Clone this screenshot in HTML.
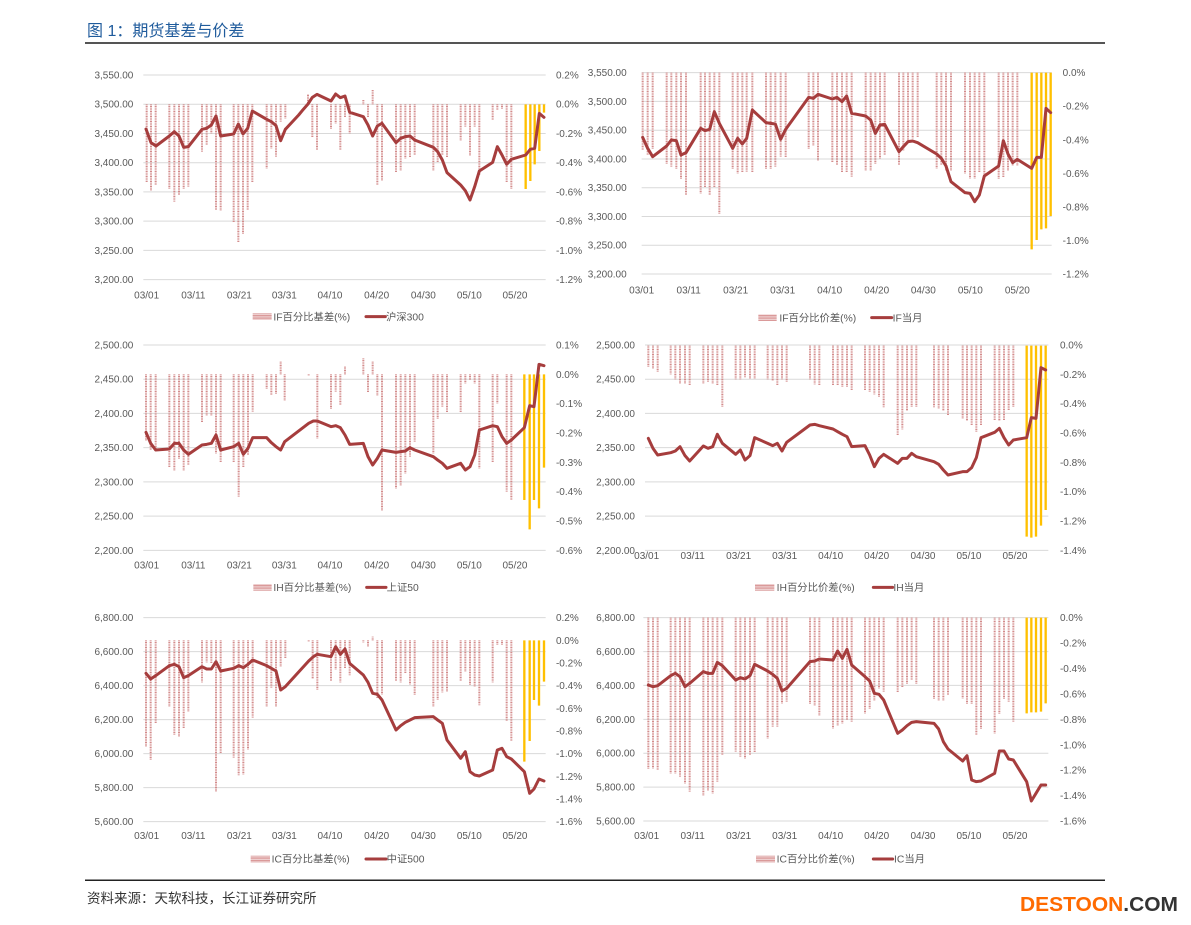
<!DOCTYPE html>
<html><head><meta charset="utf-8"><style>
html,body{margin:0;padding:0;background:#fff;}
svg{display:block;}
.g{stroke:#d9d9d9;stroke-width:3;fill:none}
.t{font-family:"Liberation Sans",sans-serif;font-size:30px;fill:#595959}
.e{text-anchor:end}
.m{text-anchor:middle}
.bar{stroke:#d38c8c;stroke-width:6;stroke-dasharray:3 2;fill:none}
.yb{stroke:#ffc000;stroke-width:7;fill:none}
.ln{fill:none;stroke:#a63d3d;stroke-width:9;stroke-linejoin:round;stroke-linecap:round}
.lg{font-family:"Liberation Sans","Noto Sans CJK SC",sans-serif;font-size:31px;fill:#595959}
</style></head><body>
<svg width="1191" height="925" viewBox="0 0 1191 925" xmlns="http://www.w3.org/2000/svg">
<defs><pattern id="hp" width="6" height="5" patternUnits="userSpaceOnUse"><rect width="6" height="5" fill="#f3dada"/><rect width="6" height="2.5" fill="#d58f8f"/></pattern></defs>

<text x="87" y="36" font-family="Liberation Sans,Noto Sans CJK SC,sans-serif" font-size="16" fill="#1f5b9c">图 1：期货基差与价差</text>
<rect x="85" y="42" width="1020" height="2" fill="#555"/>

<!-- Chart 1 -->
<g transform="translate(80,60) scale(0.3333333)">
<path class="g" d="M190 45H1397M190 132.7H1397M190 220.4H1397M190 308.1H1397M190 395.8H1397M190 483.5H1397M190 571.2H1397M190 658.9H1397"/>
<g class="t e"><text x="160" y="55.5">3,550.00</text><text x="160" y="143.2">3,500.00</text><text x="160" y="230.9">3,450.00</text><text x="160" y="318.6">3,400.00</text><text x="160" y="406.3">3,350.00</text><text x="160" y="494">3,300.00</text><text x="160" y="581.7">3,250.00</text><text x="160" y="669.4">3,200.00</text></g>
<g class="t"><text x="1428" y="55.5">0.2%</text><text x="1428" y="143.2">0.0%</text><text x="1428" y="230.9">-0.2%</text><text x="1428" y="318.6">-0.4%</text><text x="1428" y="406.3">-0.6%</text><text x="1428" y="494">-0.8%</text><text x="1428" y="581.7">-1.0%</text><text x="1428" y="669.4">-1.2%</text></g>
<g class="t m"><text x="200" y="715">03/01</text><text x="340" y="715">03/11</text><text x="478" y="715">03/21</text><text x="613" y="715">03/31</text><text x="750" y="715">04/10</text><text x="890" y="715">04/20</text><text x="1030" y="715">04/30</text><text x="1168" y="715">05/10</text><text x="1305" y="715">05/20</text></g>
<path class="bar" d="M200 133V367M213 133V393M227 133V375M268 133V387M283 133V425M297 133V405M311 133V388M325 133V380M366 133V275M380 133V255M394 133V220M408 133V450M422 133V452M461 133V488M475 133V548M489 133V523M503 133V450M517 133V367M560 133V325M574 133V265M588 133V290M602 133V185M616 133V175M684 133V102M697 133V232M711 133V270M753 133V207M767 133V190M781 133V270M795 133V173M809 133V220M850 133V120M864 133V173M878 133V90M892 133V375M906 133V362M948 133V338M962 133V333M976 133V295M990 133V292M1004 133V285M1060 133V333M1073 133V308M1087 133V285M1101 133V292M1142 133V242M1156 133V200M1170 133V287M1184 133V200M1198 133V345M1238 133V180M1252 133V150M1266 133V148M1280 133V367M1294 133V387"/>
<path class="yb" d="M1337 133V387M1351 133V363M1364 133V313M1378 133V273M1392 133V158"/>
<polyline class="ln" points="198,207 213,248 228,258 268,228 283,215 297,228 311,262 325,260 366,208 380,205 394,195 408,168 422,228 461,222 475,192 489,222 503,205 517,153 560,178 574,185 588,197 602,242 616,208 656,165 670,148 684,132 697,112 711,103 753,123 767,102 781,113 795,108 809,157 850,170 864,195 878,228 892,198 906,190 948,248 962,235 976,230 990,228 1004,240 1060,262 1073,275 1087,300 1101,338 1142,375 1156,392 1170,420 1184,380 1198,333 1238,307 1252,260 1266,285 1280,313 1294,298 1337,285 1351,268 1364,265 1378,160 1392,172"/>
<rect x="518" y="760" width="57" height="20" fill="url(#hp)"/>
<text class="lg" x="580" y="781">IF百分比基差(%)</text>
<path class="ln" stroke-linecap="butt" d="M858 770H916"/>
<text class="lg" x="918" y="781">沪深300</text>
</g>

<!-- Chart 2 -->
<g transform="translate(580,60) scale(0.3333333)">
<path class="g" d="M185 38H1415M185 124.3H1415M185 210.6H1415M185 296.9H1415M185 383.1H1415M185 469.4H1415M185 555.7H1415M185 642H1415"/>
<g class="t e"><text x="140" y="48.5">3,550.00</text><text x="140" y="134.8">3,500.00</text><text x="140" y="221.1">3,450.00</text><text x="140" y="307.4">3,400.00</text><text x="140" y="393.6">3,350.00</text><text x="140" y="479.9">3,300.00</text><text x="140" y="566.2">3,250.00</text><text x="140" y="652.5">3,200.00</text></g>
<g class="t"><text x="1448" y="48.5">0.0%</text><text x="1448" y="149.2">-0.2%</text><text x="1448" y="249.8">-0.4%</text><text x="1448" y="350.5">-0.6%</text><text x="1448" y="451.2">-0.8%</text><text x="1448" y="551.8">-1.0%</text><text x="1448" y="652.5">-1.2%</text></g>
<g class="t m"><text x="185" y="700">03/01</text><text x="326" y="700">03/11</text><text x="467" y="700">03/21</text><text x="608" y="700">03/31</text><text x="749" y="700">04/10</text><text x="890" y="700">04/20</text><text x="1030" y="700">04/30</text><text x="1171" y="700">05/10</text><text x="1312" y="700">05/20</text></g>
<path class="bar" d="M188 38V270M203 38V285M218 38V268M260 38V312M274 38V320M289 38V328M303 38V358M318 38V405M362 38V400M375 38V382M389 38V405M403 38V382M418 38V463M458 38V328M473 38V340M487 38V338M500 38V335M517 38V338M558 38V328M572 38V328M586 38V320M602 38V290M617 38V292M686 38V268M700 38V258M714 38V302M757 38V308M771 38V315M786 38V338M800 38V338M815 38V350M857 38V332M872 38V332M886 38V312M900 38V295M914 38V285M957 38V315M970 38V272M984 38V240M998 38V235M1013 38V232M1070 38V325M1084 38V315M1098 38V332M1113 38V332M1155 38V340M1170 38V355M1184 38V355M1198 38V338M1213 38V345M1256 38V358M1270 38V352M1284 38V332M1298 38V316M1312 38V316"/>
<path class="yb" stroke-width="9" d="M1355 38V568M1370 38V540M1384 38V508M1398 38V505M1412 38V468"/>
<polyline class="ln" points="188,232 203,265 218,290 260,258 274,240 289,242 303,285 318,278 362,205 375,212 389,208 403,155 418,190 458,265 473,235 487,252 500,235 517,150 558,188 572,190 586,192 602,238 617,208 686,112 700,115 714,103 757,117 771,112 786,125 800,108 815,160 857,168 872,180 886,220 900,195 914,193 957,275 970,260 984,245 998,243 1013,248 1070,282 1084,295 1098,318 1113,365 1155,398 1170,400 1184,425 1198,405 1213,348 1256,318 1270,242 1284,282 1298,308 1312,298 1355,325 1370,292 1384,292 1398,145 1412,158"/>
<rect x="535" y="763" width="55" height="20" fill="url(#hp)"/>
<text class="lg" x="598" y="784">IF百分比价差(%)</text>
<path class="ln" stroke-linecap="butt" d="M875 773H935"/>
<text class="lg" x="938" y="784">IF当月</text>
</g>

<!-- Chart 3 -->
<g transform="translate(80,335) scale(0.3333333)">
<path class="g" d="M190 30H1397M190 132.7H1397M190 235.3H1397M190 338H1397M190 440.7H1397M190 543.3H1397M190 646H1397"/>
<g class="t e"><text x="160" y="40.5">2,500.00</text><text x="160" y="143.2">2,450.00</text><text x="160" y="245.8">2,400.00</text><text x="160" y="348.5">2,350.00</text><text x="160" y="451.2">2,300.00</text><text x="160" y="553.8">2,250.00</text><text x="160" y="656.5">2,200.00</text></g>
<g class="t"><text x="1428" y="40.5">0.1%</text><text x="1428" y="128.5">0.0%</text><text x="1428" y="216.5">-0.1%</text><text x="1428" y="304.5">-0.2%</text><text x="1428" y="392.5">-0.3%</text><text x="1428" y="480.5">-0.4%</text><text x="1428" y="568.5">-0.5%</text><text x="1428" y="656.5">-0.6%</text></g>
<g class="t m"><text x="200" y="700">03/01</text><text x="340" y="700">03/11</text><text x="478" y="700">03/21</text><text x="613" y="700">03/31</text><text x="750" y="700">04/10</text><text x="890" y="700">04/20</text><text x="1030" y="700">04/30</text><text x="1168" y="700">05/10</text><text x="1305" y="700">05/20</text></g>
<path class="bar" d="M198 118V318M212 118V345M227 118V345M268 118V398M283 118V408M297 118V372M311 118V408M325 118V390M366 118V262M380 118V242M394 118V243M408 118V355M422 118V382M461 118V382M476 118V485M490 118V398M504 118V360M518 118V230M560 118V162M574 118V180M588 118V178M602 118V78M614 118V198M686 118V122M712 118V310M753 118V222M767 118V170M781 118V210M795 118V95M850 118V68M864 118V172M878 118V78M892 118V182M906 118V528M948 118V460M962 118V452M976 118V415M990 118V365M1004 118V320M1060 118V355M1073 118V252M1087 118V215M1101 118V232M1142 118V232M1156 118V145M1170 118V135M1184 118V145M1198 118V400M1238 118V383M1252 118V205M1280 118V470M1294 118V495"/>
<path class="yb" d="M1333 118V495M1349 118V583M1362 118V495M1377 118V520M1392 118V398"/>
<polyline class="ln" points="198,292 212,325 227,345 268,342 283,325 297,325 311,345 325,358 366,330 380,328 394,325 408,300 422,345 461,335 476,325 490,358 504,340 518,308 560,308 574,323 588,335 602,345 614,320 686,265 700,258 712,258 753,275 767,272 781,278 795,300 809,328 850,325 864,365 878,390 892,370 906,345 948,352 962,350 976,348 990,338 1004,345 1060,365 1073,375 1087,385 1101,400 1142,385 1156,405 1170,395 1184,360 1198,285 1238,272 1252,275 1266,305 1280,325 1294,315 1333,278 1349,212 1362,215 1377,88 1392,92"/>
<rect x="520" y="747" width="55" height="20" fill="url(#hp)"/>
<text class="lg" x="580" y="768">IH百分比基差(%)</text>
<path class="ln" stroke-linecap="butt" d="M860 757H918"/>
<text class="lg" x="920" y="768">上证50</text>
</g>

<!-- Chart 4 -->
<g transform="translate(580,335) scale(0.3333333)">
<path class="g" d="M195 30H1405M195 132.7H1405M195 235.3H1405M195 338H1405M195 440.7H1405M195 543.3H1405M195 646H1405"/>
<g class="t e"><text x="165" y="40.5">2,500.00</text><text x="165" y="143.2">2,450.00</text><text x="165" y="245.8">2,400.00</text><text x="165" y="348.5">2,350.00</text><text x="165" y="451.2">2,300.00</text><text x="165" y="553.8">2,250.00</text><text x="165" y="656.5">2,200.00</text></g>
<g class="t"><text x="1440" y="40.5">0.0%</text><text x="1440" y="128.5">-0.2%</text><text x="1440" y="216.5">-0.4%</text><text x="1440" y="304.5">-0.6%</text><text x="1440" y="392.5">-0.8%</text><text x="1440" y="480.5">-1.0%</text><text x="1440" y="568.5">-1.2%</text><text x="1440" y="656.5">-1.4%</text></g>
<g class="t m"><text x="200" y="672">03/01</text><text x="338" y="672">03/11</text><text x="476" y="672">03/21</text><text x="614" y="672">03/31</text><text x="752" y="672">04/10</text><text x="890" y="672">04/20</text><text x="1029" y="672">04/30</text><text x="1167" y="672">05/10</text><text x="1305" y="672">05/20</text></g>
<path class="bar" d="M205 32V97M219 32V100M233 32V110M272 32V118M286 32V133M300 32V147M315 32V147M329 32V152M370 32V147M384 32V140M398 32V147M412 32V150M427 32V215M467 32V133M481 32V133M495 32V128M510 32V130M524 32V130M563 32V133M578 32V138M592 32V152M606 32V133M620 32V140M690 32V133M704 32V148M718 32V152M759 32V152M773 32V150M787 32V155M801 32V155M815 32V165M855 32V165M869 32V170M883 32V178M897 32V185M911 32V218M953 32V302M967 32V283M981 32V228M995 32V215M1009 32V215M1062 32V218M1076 32V220M1090 32V228M1104 32V240M1148 32V252M1161 32V258M1175 32V272M1189 32V290M1203 32V270M1244 32V255M1258 32V258M1272 32V255M1286 32V225M1300 32V215"/>
<path class="yb" d="M1340 32V605M1354 32V608M1368 32V605M1383 32V572M1397 32V525"/>
<polyline class="ln" points="205,310 219,340 233,360 272,353 286,348 300,335 315,362 329,378 370,333 384,340 398,335 412,298 427,325 467,358 481,345 495,375 510,362 524,308 563,325 578,332 592,325 606,348 620,322 690,270 704,268 718,272 759,282 773,290 787,298 801,305 815,335 855,332 869,360 883,395 897,370 911,358 953,385 967,370 981,370 995,355 1009,365 1062,380 1076,388 1090,405 1104,420 1148,410 1161,410 1175,398 1189,368 1203,308 1244,292 1258,280 1272,308 1286,330 1300,315 1340,308 1354,248 1368,250 1383,98 1397,105"/>
<rect x="525" y="747" width="58" height="20" fill="url(#hp)"/>
<text class="lg" x="590" y="768">IH百分比价差(%)</text>
<path class="ln" stroke-linecap="butt" d="M880 757H938"/>
<text class="lg" x="940" y="768">IH当月</text>
</g>

<!-- Chart 5 -->
<g transform="translate(80,605) scale(0.3333333)">
<path class="g" d="M190 38H1397M190 140H1397M190 242H1397M190 344H1397M190 446H1397M190 548H1397M190 650H1397"/>
<g class="t e"><text x="160" y="48.5">6,800.00</text><text x="160" y="150.5">6,600.00</text><text x="160" y="252.5">6,400.00</text><text x="160" y="354.5">6,200.00</text><text x="160" y="456.5">6,000.00</text><text x="160" y="558.5">5,800.00</text><text x="160" y="660.5">5,600.00</text></g>
<g class="t"><text x="1428" y="48.5">0.2%</text><text x="1428" y="116.5">0.0%</text><text x="1428" y="184.5">-0.2%</text><text x="1428" y="252.5">-0.4%</text><text x="1428" y="320.5">-0.6%</text><text x="1428" y="388.5">-0.8%</text><text x="1428" y="456.5">-1.0%</text><text x="1428" y="524.5">-1.2%</text><text x="1428" y="592.5">-1.4%</text><text x="1428" y="660.5">-1.6%</text></g>
<g class="t m"><text x="200" y="702">03/01</text><text x="340" y="702">03/11</text><text x="478" y="702">03/21</text><text x="613" y="702">03/31</text><text x="750" y="702">04/10</text><text x="890" y="702">04/20</text><text x="1030" y="702">04/30</text><text x="1168" y="702">05/10</text><text x="1305" y="702">05/20</text></g>
<path class="bar" d="M198 106V425M212 106V465M227 106V355M268 106V305M283 106V390M297 106V395M311 106V370M325 106V320M366 106V232M380 106V172M394 106V175M408 106V560M422 106V445M461 106V458M476 106V512M490 106V508M504 106V433M518 106V338M560 106V305M574 106V248M588 106V305M602 106V185M616 106V160M686 106V110M698 106V222M712 106V255M753 106V228M767 106V193M781 106V232M795 106V190M809 106V212M850 106V112M864 106V125M878 106V95M892 106V280M906 106V268M948 106V228M962 106V232M976 106V205M990 106V238M1004 106V270M1060 106V305M1073 106V285M1087 106V262M1101 106V260M1142 106V228M1156 106V200M1170 106V240M1184 106V245M1198 106V302M1238 106V232M1252 106V120M1266 106V120M1280 106V348M1294 106V408"/>
<path class="yb" d="M1333 106V470M1349 106V408M1362 106V285M1377 106V302M1392 106V230"/>
<polyline class="ln" points="198,205 212,222 227,212 268,182 283,178 297,185 311,218 325,212 366,185 380,192 394,192 408,170 422,198 461,190 476,182 490,188 504,178 518,165 560,182 574,190 588,198 602,255 616,245 686,168 700,155 712,148 753,155 767,125 781,148 795,132 809,175 850,210 864,232 878,265 892,268 906,285 948,375 962,362 976,352 990,345 1004,338 1060,335 1073,345 1087,355 1101,405 1142,460 1156,440 1170,500 1184,510 1198,513 1238,495 1252,435 1266,430 1280,455 1294,462 1333,500 1349,565 1362,552 1377,522 1392,528"/>
<rect x="512" y="752" width="58" height="20" fill="url(#hp)"/>
<text class="lg" x="575" y="773">IC百分比基差(%)</text>
<path class="ln" stroke-linecap="butt" d="M858 762H918"/>
<text class="lg" x="920" y="773">中证500</text>
</g>

<!-- Chart 6 -->
<g transform="translate(580,605) scale(0.3333333)">
<path class="g" d="M190 38H1405M190 139.7H1405M190 241.3H1405M190 343H1405M190 444.7H1405M190 546.3H1405M190 648H1405"/>
<g class="t e"><text x="165" y="48.5">6,800.00</text><text x="165" y="150.2">6,600.00</text><text x="165" y="251.8">6,400.00</text><text x="165" y="353.5">6,200.00</text><text x="165" y="455.2">6,000.00</text><text x="165" y="556.8">5,800.00</text><text x="165" y="658.5">5,600.00</text></g>
<g class="t"><text x="1440" y="48.5">0.0%</text><text x="1440" y="124.8">-0.2%</text><text x="1440" y="201">-0.4%</text><text x="1440" y="277.3">-0.6%</text><text x="1440" y="353.5">-0.8%</text><text x="1440" y="429.8">-1.0%</text><text x="1440" y="506">-1.2%</text><text x="1440" y="582.3">-1.4%</text><text x="1440" y="658.5">-1.6%</text></g>
<g class="t m"><text x="200" y="702">03/01</text><text x="338" y="702">03/11</text><text x="476" y="702">03/21</text><text x="614" y="702">03/31</text><text x="752" y="702">04/10</text><text x="890" y="702">04/20</text><text x="1029" y="702">04/30</text><text x="1167" y="702">05/10</text><text x="1305" y="702">05/20</text></g>
<path class="bar" d="M205 38V492M219 38V490M233 38V495M272 38V505M286 38V505M300 38V515M315 38V535M329 38V560M370 38V572M384 38V558M398 38V565M412 38V530M427 38V450M467 38V440M481 38V455M495 38V460M510 38V450M524 38V442M563 38V400M578 38V365M592 38V365M606 38V295M620 38V290M690 38V298M704 38V303M718 38V332M759 38V370M773 38V362M787 38V355M801 38V345M815 38V350M855 38V325M869 38V312M883 38V288M897 38V250M911 38V260M953 38V262M967 38V248M981 38V238M995 38V225M1009 38V238M1062 38V282M1076 38V288M1090 38V288M1104 38V270M1148 38V280M1161 38V298M1175 38V298M1189 38V390M1203 38V372M1244 38V385M1258 38V328M1272 38V282M1286 38V290M1300 38V350"/>
<path class="yb" d="M1340 38V325M1354 38V322M1368 38V322M1383 38V320M1397 38V295"/>
<polyline class="ln" points="205,240 219,245 233,242 272,212 286,205 300,215 315,245 329,235 370,200 384,205 398,205 412,172 427,182 467,225 481,218 495,222 510,212 524,178 563,198 578,208 592,220 606,258 620,250 690,170 704,168 718,162 759,165 773,138 787,160 801,133 815,180 855,215 869,228 883,265 897,268 911,285 953,385 967,375 981,362 995,352 1009,350 1062,355 1076,372 1090,410 1104,432 1148,468 1161,452 1175,525 1189,530 1203,528 1244,505 1258,438 1272,438 1286,462 1300,465 1340,530 1354,588 1368,565 1383,540 1397,540"/>
<rect x="528" y="752" width="57" height="20" fill="url(#hp)"/>
<text class="lg" x="590" y="773">IC百分比价差(%)</text>
<path class="ln" stroke-linecap="butt" d="M880 762H938"/>
<text class="lg" x="942" y="773">IC当月</text>
</g>

<rect x="85" y="879.5" width="1020" height="1.5" fill="#222"/>
<text x="87" y="903" font-family="Liberation Sans,Noto Sans CJK SC,sans-serif" font-size="13.5" fill="#333">资料来源：天软科技，长江证券研究所</text>
<text x="1020" y="911" font-family="Liberation Sans,sans-serif" font-size="20" font-weight="bold" textLength="158" lengthAdjust="spacingAndGlyphs"><tspan fill="#ff6a00">DESTOON</tspan><tspan fill="#333">.COM</tspan></text>
</svg>
</body></html>
